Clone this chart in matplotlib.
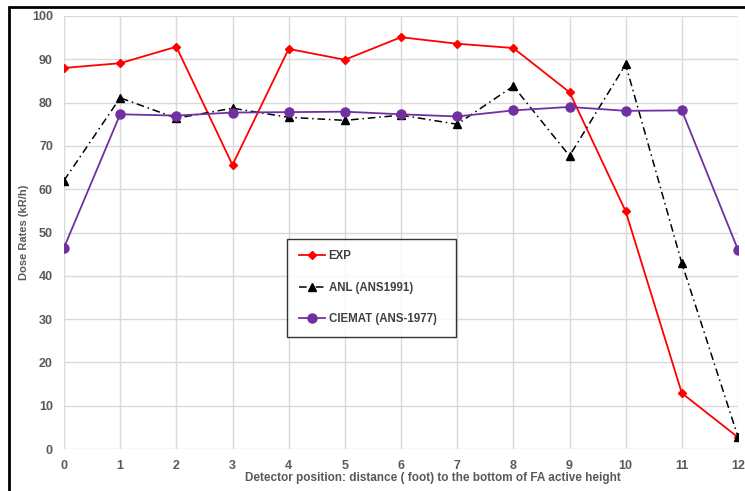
import matplotlib.pyplot as plt
from matplotlib.patches import Rectangle

plt.rcParams['font.family'] = ['Liberation Sans', 'DejaVu Sans']

pos = list(range(13))
exp = [88.0, 89.1, 92.9, 65.6, 92.4, 89.9, 95.1, 93.6, 92.6, 82.4, 54.9, 12.9, 2.7]
anl = [62.0, 81.1, 76.4, 78.7, 76.6, 75.9, 77.1, 75.0, 83.8, 67.7, 88.8, 42.9, 2.8]
ciemat = [46.5, 77.3, 77.0, 77.7, 77.8, 77.9, 77.3, 76.8, 78.2, 79.0, 78.1, 78.2, 46.0]

fig = plt.figure(figsize=(7.45, 4.91), dpi=100)
ax = fig.add_axes([64/745, 1-449/491, 674/745, 433/491])

ax.plot(pos, exp, color='#ff0000', marker='D', markersize=4.5, lw=1.3, label='EXP', zorder=3)
ax.plot(pos, anl, color='black', marker='^', markersize=6, lw=1.1, ls=(0, (5, 2.5, 1, 2.5)),
        label='ANL (ANS1991)', zorder=3)
ax.plot(pos, ciemat, color='#7030a0', marker='o', markersize=6.5, lw=1.3,
        label='CIEMAT (ANS-1977)', zorder=3)

ax.set_xlim(0, 12)
ax.set_ylim(0, 100)
ax.set_xticks(pos)
ax.set_yticks(range(0, 101, 10))
ax.grid(True, color='#d9d9d9', lw=1)
for s in ax.spines.values():
    s.set_visible(False)
ax.tick_params(length=0, labelsize=9, labelcolor='#595959', pad=8)
for t in ax.get_xticklabels() + ax.get_yticklabels():
    t.set_fontweight('bold')

ax.set_xlabel('Detector position: distance ( foot) to the bottom of FA active height',
              fontsize=8.5, fontweight='bold', color='#595959')
ax.xaxis.set_label_coords(0.547, -0.054)
ax.set_ylabel('Dose Rates (kR/h)', fontsize=8, fontweight='bold', color='#595959')
ax.yaxis.set_label_coords(-0.052, 0.5)

leg = ax.legend(loc='lower left', bbox_to_anchor=(0.331, 0.259, 0.25, 0.224), mode='expand',
                fontsize=8.3, frameon=True, fancybox=False, edgecolor='black', labelspacing=1.7,
                handlelength=2.3, handletextpad=0.3, borderpad=1.0, borderaxespad=0)
leg.get_frame().set_linewidth(1)
for t in leg.get_texts():
    t.set_fontweight('bold')
    t.set_color('#404040')

fig.patches.append(Rectangle((9/745, -0.1), 1.2, 1 - 7/491 + 0.1, transform=fig.transFigure,
                             fill=False, edgecolor='black', lw=2, zorder=10))

fig.savefig('out.png', dpi=100)
